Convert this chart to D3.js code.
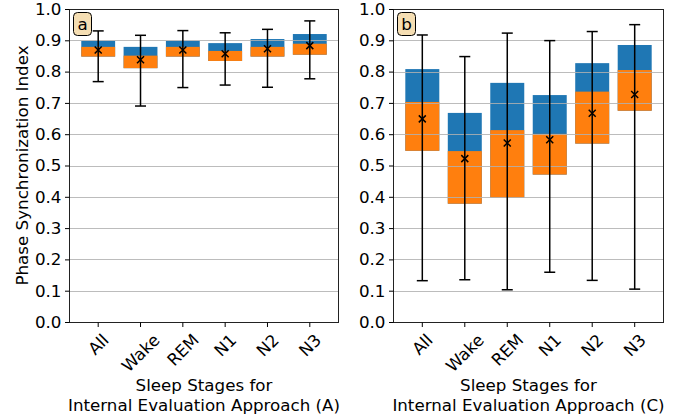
<!DOCTYPE html>
<html>
<head>
<meta charset="utf-8">
<script src="https://cdn.jsdelivr.net/npm/d3@7"></script>
<style>
  body { margin: 0; background: #fff; }
  text { font-family: "DejaVu Sans", sans-serif; fill: #000; }
</style>
</head>
<body>
<div id="chart"></div>
<script>
const width = 696;
const height = 419;

const stages = ["All", "Wake", "REM", "N1", "N2", "N3"];
const yTicks = [0.0, 0.1, 0.2, 0.3, 0.4, 0.5, 0.6, 0.7, 0.8, 0.9, 1.0];

// approach A
const aTop    = [0.898, 0.879, 0.898, 0.891, 0.904, 0.920];
const aMid    = [0.879, 0.851, 0.879, 0.866, 0.879, 0.889];
const aBottom = [0.848, 0.811, 0.848, 0.834, 0.848, 0.854];
const aMean   = [0.869, 0.838, 0.869, 0.857, 0.873, 0.883];
const aMax    = [0.930, 0.916, 0.931, 0.924, 0.935, 0.962];
const aMin    = [0.768, 0.690, 0.749, 0.757, 0.750, 0.777];

// approach C
const cTop    = [0.808, 0.668, 0.764, 0.725, 0.827, 0.885];
const cMid    = [0.703, 0.546, 0.613, 0.601, 0.736, 0.805];
const cBottom = [0.547, 0.378, 0.397, 0.471, 0.570, 0.675];
const cMean   = [0.649, 0.522, 0.572, 0.582, 0.667, 0.727];
const cMax    = [0.917, 0.848, 0.923, 0.899, 0.928, 0.950];
const cMin    = [0.132, 0.135, 0.103, 0.159, 0.133, 0.105];

const fs = 16.7;

const svg = d3.select("#chart")
  .append("svg")
  .attr("width", width)
  .attr("height", height);

svg.append("rect").attr("width", width).attr("height", height).attr("fill", "#fff");

const plotTop = 9, plotBottom = 322;
const y = d3.scaleLinear().domain([0, 1]).range([plotBottom, plotTop]);

function drawPanel(x0, x1, letter, approach, vals) {
  const g = svg.append("g");
  const x = d3.scaleBand().domain(stages).range([x0, x1])
    .paddingInner(0.2).paddingOuter(0.29);

  const rows = stages.map((s, i) => ({
    s, top: vals.top[i], mid: vals.mid[i], bot: vals.bot[i],
    mean: vals.mean[i], max: vals.max[i], min: vals.min[i]
  }));

  // blue then orange boxes
  g.selectAll(".blue").data(rows).enter().append("rect")
    .attr("x", d => x(d.s)).attr("width", x.bandwidth())
    .attr("y", d => y(d.top)).attr("height", d => y(d.bot) - y(d.top))
    .attr("fill", "#1f77b4");
  g.selectAll(".orange").data(rows).enter().append("rect")
    .attr("x", d => x(d.s)).attr("width", x.bandwidth())
    .attr("y", d => y(d.mid)).attr("height", d => y(d.bot) - y(d.mid))
    .attr("fill", "#ff7f0e");

  // grid
  g.selectAll(".grid").data(yTicks.slice(1, -1)).enter().append("line")
    .attr("x1", x0).attr("x2", x1)
    .attr("y1", d => Math.round(y(d)) + 0.5).attr("y2", d => Math.round(y(d)) + 0.5)
    .attr("stroke", "#b0b0b0").attr("stroke-width", 1.1).attr("stroke-opacity", 0.85);

  // error bars
  const cx = d => x(d.s) + x.bandwidth() / 2;
  const err = g.selectAll(".err").data(rows).enter().append("g")
    .attr("stroke", "#000").attr("stroke-width", 1.5);
  err.append("line").attr("x1", cx).attr("x2", cx)
    .attr("y1", d => y(d.max)).attr("y2", d => y(d.min));
  err.append("line").attr("x1", d => cx(d) - 5.5).attr("x2", d => cx(d) + 5.5)
    .attr("y1", d => y(d.max)).attr("y2", d => y(d.max));
  err.append("line").attr("x1", d => cx(d) - 5.5).attr("x2", d => cx(d) + 5.5)
    .attr("y1", d => y(d.min)).attr("y2", d => y(d.min));

  // mean markers
  const m = 3.5;
  g.selectAll(".mk").data(rows).enter().append("path")
    .attr("d", d => `M${cx(d) - m},${y(d.mean) - m}L${cx(d) + m},${y(d.mean) + m}M${cx(d) - m},${y(d.mean) + m}L${cx(d) + m},${y(d.mean) - m}`)
    .attr("stroke", "#000").attr("stroke-width", 1.5).attr("fill", "none");

  // frame
  g.append("rect").attr("x", x0 + 0.5).attr("y", plotTop + 0.5)
    .attr("width", x1 - x0 - 1).attr("height", plotBottom - plotTop)
    .attr("fill", "none").attr("stroke", "#222").attr("stroke-width", 1);

  // y axis
  const yAxis = g.append("g").attr("transform", `translate(${x0 + 0.5},0)`)
    .call(d3.axisLeft(y).tickValues(yTicks).tickFormat(d3.format(".1f")).tickSize(4.5).tickPadding(3.5));
  yAxis.select(".domain").remove();
  yAxis.selectAll("text").style("font-size", fs + "px").style("font-family", "DejaVu Sans");

  // x axis
  const xAxis = g.append("g").attr("transform", `translate(0,${plotBottom + 0.5})`)
    .call(d3.axisBottom(x).tickSize(4.5).tickFormat(""));
  xAxis.select(".domain").remove();

  // rotated tick labels, rotated box centred under the tick
  g.selectAll(".xl").data(stages).enter().append("text")
    .attr("text-anchor", "middle").attr("dominant-baseline", "central")
    .style("font-size", fs + "px").text(d => d)
    .each(function(d) {
      const w = this.getComputedTextLength();
      const half = (w + fs) * 0.7071 / 2;
      d3.select(this).attr("transform",
        `translate(${x(d) + x.bandwidth() / 2},${plotBottom + 9 + half}) rotate(-45)`);
    });

  // x label
  const mid = (x0 + x1) / 2;
  g.append("text").attr("x", mid).attr("y", 391).attr("text-anchor", "middle")
    .style("font-size", fs + "px").text("Sleep Stages for");
  g.append("text").attr("x", mid).attr("y", 410.5).attr("text-anchor", "middle")
    .style("font-size", fs + "px").text(`Internal Evaluation Approach (${approach})`);

  // panel letter
  g.append("rect").attr("x", x0 + 4.5).attr("y", 12.5).attr("width", 18).attr("height", 23)
    .attr("rx", 4).attr("fill", "#f5deb3").attr("stroke", "#000").attr("stroke-width", 1);
  g.append("text").attr("x", x0 + 13.5).attr("y", 30).attr("text-anchor", "middle")
    .style("font-size", fs + "px").text(letter);
}

drawPanel(69, 339, "a", "A", { top: aTop, mid: aMid, bot: aBottom, mean: aMean, max: aMax, min: aMin });
drawPanel(393, 664, "b", "C", { top: cTop, mid: cMid, bot: cBottom, mean: cMean, max: cMax, min: cMin });

svg.append("text")
  .attr("transform", `translate(28,${(plotTop + plotBottom) / 2}) rotate(-90)`)
  .attr("text-anchor", "middle")
  .style("font-size", fs + "px")
  .text("Phase Synchronization Index");
</script>
</body>
</html>
